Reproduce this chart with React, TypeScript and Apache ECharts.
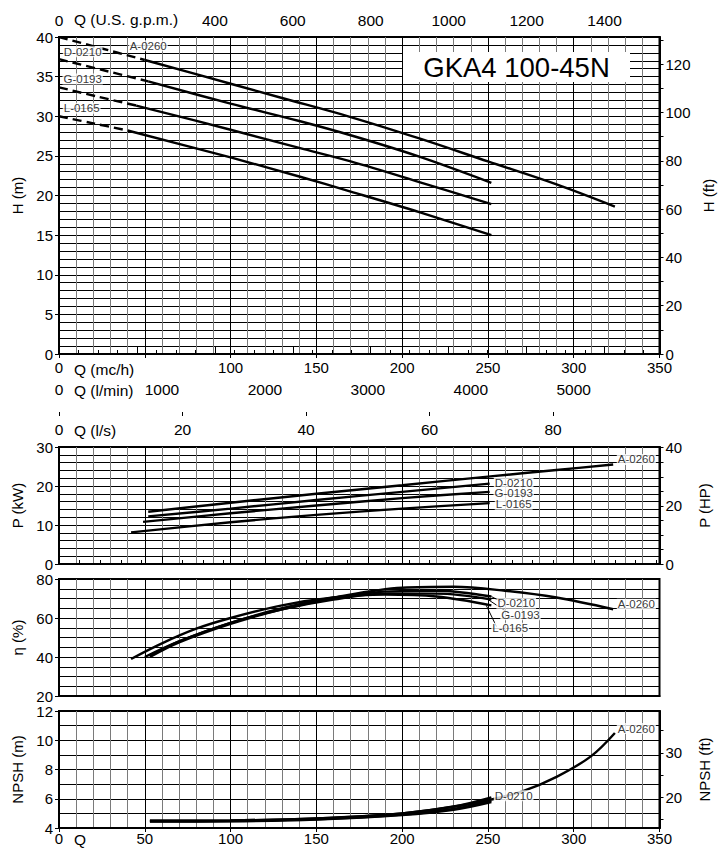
import React, { useEffect, useRef } from "react";
import * as echarts from "echarts";

const FONT = "'Liberation Sans', Arial, Helvetica, sans-serif";
const BLACK = "#000";
const GRAY = "#7a7a7a";

// unit conversions (flow base unit: m3/h)
const Q_MAX = 350;
const M_TO_FT = 1 / 0.3048;
const KW_TO_HP = 1 / 0.7457;
const M3H_TO_GPM = 4.40287;
const M3H_TO_LMIN = 1000 / 60;
const M3H_TO_LS = 1 / 3.6;

// tick / label values
const GPM_LABELS = [0, 400, 600, 800, 1000, 1200, 1400];
const GPM_MAJOR_TICKS = [0, 200, 400, 600, 800, 1000, 1200, 1400];
const GPM_MINOR_TICKS = [50, 100, 150, 250, 300, 350, 450, 500, 550, 650, 700, 750, 850, 900, 950, 1050, 1100, 1150, 1250, 1300, 1350, 1450, 1500];
const LMIN_LABELS = [0, 1000, 2000, 3000, 4000, 5000];
const LMIN_MAJOR_TICKS = [0, 1000, 2000, 3000, 4000, 5000];
const LMIN_MINOR_TICKS = [200, 400, 600, 800, 1200, 1400, 1600, 1800, 2200, 2400, 2600, 2800, 3200, 3400, 3600, 3800, 4200, 4400, 4600, 4800, 5200, 5400, 5600, 5800];
const LS_LABELS = [0, 20, 40, 60, 80];
const H_FT_LABELS = [0, 20, 40, 60, 80, 100, 120];
const H_FT_TICKS = [0, 10, 20, 30, 40, 50, 60, 70, 80, 90, 100, 110, 120, 130];
const HP_LABELS = [0, 20, 40];
const HP_TICKS = [0, 5, 10, 15, 20, 25, 30, 35, 40];
const NPSH_FT_LABELS = [20, 30];
const NPSH_FT_TICKS = [15, 20, 25, 30, 35];

// curve names
const CURVES = ["A-0260", "D-0210", "G-0193", "L-0165"];

// Head H (m) vs Q (m3/h): dashed (extrapolated) + solid parts
const headDashA = [[0, 40], [25, 38.55], [50, 37.1]];
const headSolidA = [[50, 37.1], [100, 34.1], [130, 32.3], [170, 29.9], [210, 27.2], [250, 24.3], [290, 21.4], [324, 18.6]];
const headDashD = [[0, 37.2], [26, 35.8], [52, 34.4]];
const headSolidD = [[52, 34.4], [100, 31.6], [140, 29.4], [170, 27.6], [210, 24.9], [252, 21.6]];
const headDashG = [[0, 33.65], [22, 32.5], [45, 31.35]];
const headSolidG = [[45, 31.35], [100, 28.3], [140, 26.0], [170, 24.3], [210, 21.7], [252, 18.9]];
const headDashL = [[0, 30.0], [20, 29.1], [40, 28.2]];
const headSolidL = [[40, 28.2], [100, 24.8], [140, 22.4], [170, 20.5], [210, 17.9], [252, 15.0]];
const headLabelPos = [[52, 38.9], [13.8, 38.15], [13.8, 34.7], [13.2, 31.0]];

// Power P (kW) vs Q
const powerA = [[52, 13.4], [100, 15.7], [150, 18.0], [200, 20.2], [250, 22.4], [290, 24.1], [323, 25.5]];
const powerD = [[52, 12.2], [100, 14.2], [150, 16.4], [200, 18.5], [251, 20.6]];
const powerG = [[49, 10.8], [100, 13.0], [150, 15.0], [200, 16.9], [251, 18.5]];
const powerL = [[42, 8.1], [100, 10.7], [150, 12.6], [200, 14.2], [251, 15.6]];
const powerLabelPos = [[336.5, 26.8], [265, 20.8], [265, 18.1], [265, 15.3]];

// Efficiency (%) vs Q
const effA = [[53, 40.5], [70, 48], [100, 57.5], [130, 65], [160, 70.5], [200, 75.5], [230, 76], [260, 74], [290, 70.5], [323, 64.5]];
const effD = [[53, 40], [70, 47.5], [100, 57], [130, 64.5], [160, 70], [190, 73.5], [220, 74], [252, 71]];
const effG = [[50, 40], [70, 48], [100, 57.5], [130, 64.5], [160, 69.5], [190, 72.5], [220, 72.5], [252, 69.5]];
const effL = [[42, 39], [60, 47], [80, 54.5], [100, 60], [130, 66.5], [160, 70.5], [190, 72], [220, 71], [252, 66.5]];
const effLabelPos = [[336.5, 67.1], [266.5, 67.6], [269, 61.7], [263, 54.7]];
const effLeaderD = [[252, 71], [258, 68.3]];
const effLeaderG = [[250, 69.5], [262, 62.6]];
const effLeaderL = [[249, 66.5], [255, 55.6]];

// NPSH (m) vs Q
const npshA = [[53, 4.5], [100, 4.52], [150, 4.65], [200, 5.0], [230, 5.45], [252, 5.95], [270, 6.5], [290, 7.5], [310, 8.9], [324, 10.5]];
const npshD = [[53, 4.5], [100, 4.52], [150, 4.66], [200, 5.0], [230, 5.47], [252, 6.1]];
const npshG = [[53, 4.46], [100, 4.48], [150, 4.6], [200, 4.92], [230, 5.3], [252, 5.85]];
const npshL = [[53, 4.44], [100, 4.46], [150, 4.58], [200, 4.88], [230, 5.25], [252, 5.78]];
const npshLabelPos = [[336.5, 10.8], [265, 6.2]];

const GRID_LEFT = 59;
const GRID_WIDTH = 600.5;

const plain = (v: number) => String(Math.round(v));

function qAxis(gridIndex: number, labels: boolean, margin = 6) {
  return {
    type: "value",
    gridIndex,
    position: "bottom",
    min: 0,
    max: Q_MAX,
    interval: 50,
    axisLine: { show: true, onZero: false, lineStyle: { color: BLACK, width: 2 } },
    axisTick: { show: labels, length: 4, lineStyle: { color: BLACK, width: 1 } },
    axisLabel: {
      show: labels,
      margin,
      fontSize: 15,
      fontFamily: FONT,
      color: BLACK,
      formatter: (v: number) => (v === 50 && gridIndex === 0 ? "" : plain(v)),
    },
    splitLine: { show: true, lineStyle: { color: BLACK, width: 1 } },
    minorTick: { show: false, splitNumber: 5 },
    minorSplitLine: { show: true, lineStyle: { color: GRAY, width: 1 } },
  };
}

function leftAxis(gridIndex: number, min: number, max: number, interval: number, minorSplit: number, name: string) {
  return {
    type: "value",
    gridIndex,
    position: "left",
    min,
    max,
    interval,
    name,
    nameLocation: "middle",
    nameRotate: 90,
    nameGap: 34,
    nameTextStyle: { fontSize: 15, fontFamily: FONT, color: BLACK },
    axisLine: { show: true, onZero: false, lineStyle: { color: BLACK, width: 2 } },
    axisTick: { show: true, length: 4, lineStyle: { color: BLACK, width: 1 } },
    axisLabel: { margin: 6, fontSize: 15, fontFamily: FONT, color: BLACK, formatter: plain },
    splitLine: { show: true, lineStyle: { color: BLACK, width: 1 } },
    minorTick: { show: false, splitNumber: minorSplit },
    minorSplitLine: { show: true, lineStyle: { color: BLACK, width: 1 } },
  };
}

function rightAxis(gridIndex: number, min: number, max: number, labels: number[], ticks: number[], name: string) {
  return {
    type: "value",
    gridIndex,
    position: "right",
    min,
    max,
    name,
    nameLocation: "middle",
    nameRotate: 90,
    nameGap: 37,
    nameTextStyle: { fontSize: 15, fontFamily: FONT, color: BLACK },
    axisLine: { show: true, onZero: false, lineStyle: { color: BLACK, width: 2 } },
    axisTick: { show: true, length: 4, customValues: ticks, lineStyle: { color: BLACK, width: 1 } },
    axisLabel: { margin: 6, fontSize: 15, fontFamily: FONT, color: BLACK, customValues: labels, formatter: plain },
    splitLine: { show: false },
  };
}

function line(data: number[][], xi: number, yi: number, dashed = false) {
  return {
    type: "line",
    xAxisIndex: xi,
    yAxisIndex: yi,
    data,
    smooth: 0.35,
    symbol: "none",
    silent: true,
    z: 5,
    lineStyle: { color: BLACK, width: 2.4, type: dashed ? [9, 5] : "solid", cap: "butt" },
  };
}

function thin(data: number[][], xi: number, yi: number) {
  return {
    type: "line",
    xAxisIndex: xi,
    yAxisIndex: yi,
    data,
    symbol: "none",
    silent: true,
    z: 6,
    lineStyle: { color: BLACK, width: 1 },
  };
}

function labels(names: string[], pos: number[][], xi: number, yi: number) {
  return {
    type: "scatter",
    xAxisIndex: xi,
    yAxisIndex: yi,
    symbolSize: 0,
    silent: true,
    z: 8,
    itemStyle: { color: BLACK },
    data: pos.map((p, i) => ({ name: names[i], value: p })),
    label: {
      show: true,
      position: "inside",
      formatter: "{b}",
      fontSize: 11.5,
      fontFamily: FONT,
      color: BLACK,
      textBorderWidth: 0,
      textBorderColor: "transparent",
      backgroundColor: "#fff",
      padding: [0, 1, 0, 1],
      lineHeight: 11,
    },
  };
}

function qText(text: string, y: number) {
  return {
    type: "text",
    x: 74,
    y,
    z: 20,
    style: { text, fontSize: 15.5, fontFamily: FONT, fill: BLACK, align: "left", verticalAlign: "middle" },
  };
}

export default function App() {
  const ref = useRef<HTMLDivElement>(null);

  useEffect(() => {
    if (!ref.current) return;
    const chart = echarts.init(ref.current, undefined, { renderer: "svg" });

    const option: any = {
      animation: false,
      backgroundColor: "#fff",
      textStyle: { fontFamily: FONT },
      grid: [
        { left: GRID_LEFT, width: GRID_WIDTH, top: 37, height: 317, show: true, borderColor: BLACK, borderWidth: 2, backgroundColor: "transparent" },
        { left: GRID_LEFT, width: GRID_WIDTH, top: 447, height: 117, show: true, borderColor: BLACK, borderWidth: 2, backgroundColor: "transparent" },
        { left: GRID_LEFT, width: GRID_WIDTH, top: 579, height: 117, show: true, borderColor: BLACK, borderWidth: 2, backgroundColor: "transparent" },
        { left: GRID_LEFT, width: GRID_WIDTH, top: 711, height: 117, show: true, borderColor: BLACK, borderWidth: 2, backgroundColor: "transparent" },
      ],
      xAxis: [
        qAxis(0, true, 6),
        {
          type: "value", gridIndex: 0, position: "top", min: 0, max: Q_MAX * M3H_TO_GPM,
          axisLine: { show: false },
          axisTick: { show: true, length: 8, customValues: GPM_MAJOR_TICKS, lineStyle: { color: BLACK, width: 1 } },
          axisLabel: { show: true, margin: 9, fontSize: 15.5, fontFamily: FONT, color: BLACK, customValues: GPM_LABELS, formatter: plain },
          splitLine: { show: false },
        },
        {
          type: "value", gridIndex: 0, position: "top", min: 0, max: Q_MAX * M3H_TO_GPM,
          axisLine: { show: false },
          axisTick: { show: true, length: 4, customValues: GPM_MINOR_TICKS, lineStyle: { color: BLACK, width: 1 } },
          axisLabel: { show: false },
          splitLine: { show: false },
        },
        {
          type: "value", gridIndex: 0, position: "bottom", offset: 21, min: 0, max: Q_MAX * M3H_TO_LMIN,
          axisLine: { show: false },
          axisTick: { show: false },
          axisLabel: { show: true, margin: 6, fontSize: 15.5, fontFamily: FONT, color: BLACK, customValues: LMIN_LABELS, formatter: plain },
          splitLine: { show: false },
        },
        {
          type: "value", gridIndex: 1, position: "top", offset: 35, min: 0, max: Q_MAX * M3H_TO_LMIN,
          axisLine: { show: true, lineStyle: { color: BLACK, width: 1.5 } },
          axisTick: { show: true, length: 8, customValues: LMIN_MAJOR_TICKS, lineStyle: { color: BLACK, width: 1 } },
          axisLabel: { show: false },
          splitLine: { show: false },
        },
        {
          type: "value", gridIndex: 1, position: "top", offset: 35, min: 0, max: Q_MAX * M3H_TO_LMIN,
          axisLine: { show: false },
          axisTick: { show: true, length: 4, customValues: LMIN_MINOR_TICKS, lineStyle: { color: BLACK, width: 1 } },
          axisLabel: { show: false },
          splitLine: { show: false },
        },
        {
          type: "value", gridIndex: 1, position: "top", offset: 35, min: 0, max: Q_MAX * M3H_TO_LS,
          axisLine: { show: false },
          axisTick: { show: true, inside: true, length: 4, customValues: LS_LABELS, lineStyle: { color: BLACK, width: 1 } },
          axisLabel: { show: true, inside: true, margin: 9, fontSize: 15.5, fontFamily: FONT, color: BLACK, customValues: LS_LABELS, formatter: plain },
          splitLine: { show: false },
        },
        qAxis(1, false),
        qAxis(2, false),
        qAxis(3, true, 3),
      ],
      yAxis: [
        leftAxis(0, 0, 40, 5, 5, "H (m)"),
        rightAxis(0, 0, 40 * M_TO_FT, H_FT_LABELS, H_FT_TICKS, "H (ft)"),
        leftAxis(1, 0, 30, 10, 5, "P (kW)"),
        rightAxis(1, 0, 30 * KW_TO_HP, HP_LABELS, HP_TICKS, "P (HP)"),
        leftAxis(2, 20, 80, 20, 4, "η (%)"),
        leftAxis(3, 4, 12, 2, 2, "NPSH (m)"),
        rightAxis(3, 4 * M_TO_FT, 12 * M_TO_FT, NPSH_FT_LABELS, NPSH_FT_TICKS, "NPSH (ft)"),
      ],
      series: [
        line(headDashA, 0, 0, true), line(headSolidA, 0, 0),
        line(headDashD, 0, 0, true), line(headSolidD, 0, 0),
        line(headDashG, 0, 0, true), line(headSolidG, 0, 0),
        line(headDashL, 0, 0, true), line(headSolidL, 0, 0),
        labels(CURVES, headLabelPos, 0, 0),

        line(powerA, 7, 2), line(powerD, 7, 2), line(powerG, 7, 2), line(powerL, 7, 2),
        labels(CURVES, powerLabelPos, 7, 2),

        line(effA, 8, 4), line(effD, 8, 4), line(effG, 8, 4), line(effL, 8, 4),
        thin(effLeaderD, 8, 4), thin(effLeaderG, 8, 4), thin(effLeaderL, 8, 4),
        labels(CURVES, effLabelPos, 8, 4),

        line(npshA, 9, 5), line(npshD, 9, 5), line(npshG, 9, 5), line(npshL, 9, 5),
        labels(CURVES.slice(0, 2), npshLabelPos, 9, 5),
      ],
      graphic: [
        { type: "rect", z: 20, shape: { x: 403, y: 52, width: 227, height: 30 }, style: { fill: "#fff" } },
        {
          type: "text", z: 21, x: 516.5, y: 67,
          style: { text: "GKA4 100-45N", fontSize: 27.5, fontFamily: FONT, fill: BLACK, align: "center", verticalAlign: "middle" },
        },
        qText("Q (U.S. g.p.m.)", 19.5),
        qText("Q (mc/h)", 369),
        qText("Q (l/min)", 390),
        qText("Q (l/s)", 430),
        qText("Q", 839),
      ],
    };

    chart.setOption(option);
    return () => chart.dispose();
  }, []);

  return (
    <div
      ref={ref}
      style={{ position: "fixed", left: 0, top: 0, width: 726, height: 848, background: "#fff" }}
    />
  );
}
